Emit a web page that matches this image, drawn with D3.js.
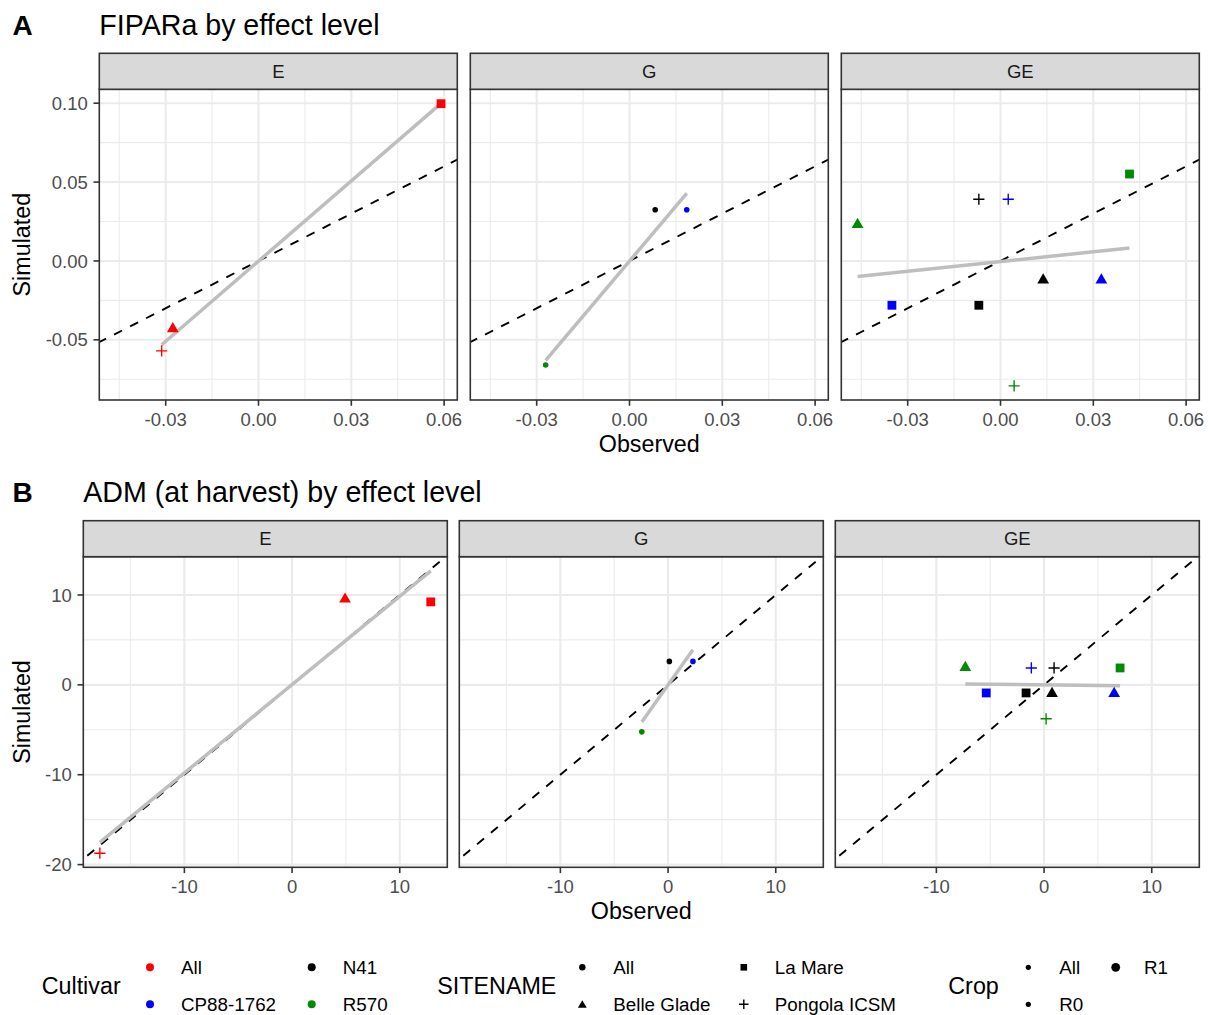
<!DOCTYPE html>
<html><head><meta charset="utf-8">
<script src="https://cdn.jsdelivr.net/npm/d3@7"></script>
<style>
body{margin:0;background:#fff;}
text{font-family:"Liberation Sans",Arial,sans-serif;}
</style>
</head><body>
<svg id="chart" width="1214" height="1015"></svg>
<script>
// ---------------- data ----------------
const effectLevels = ["E", "G", "GE"];
const cultivars = ["All", "CP88-1762", "N41", "R570"];
const cultivarColors = ["#FF0000", "#0000FF", "#000000", "#008B00"];
const sites = ["All", "Belle Glade", "La Mare", "Pongola ICSM"];
const crops = ["All", "R0", "R1"];

// Panel A: FIPARa
const fiparaEffect    = ["E","E","E", "G","G","G", "GE","GE","GE","GE","GE","GE","GE","GE","GE"];
const fiparaCultivar  = ["All","All","All", "N41","CP88-1762","R570",
                         "R570","N41","CP88-1762","R570","N41","CP88-1762","CP88-1762","N41","R570"];
const fiparaSite      = ["La Mare","Belle Glade","Pongola ICSM", "All","All","All",
                         "La Mare","Pongola ICSM","Pongola ICSM","Belle Glade","Belle Glade","Belle Glade","La Mare","La Mare","Pongola ICSM"];
const fiparaObserved  = [0.0590, -0.0277, -0.0313, 0.0083, 0.0185, -0.0271,
                         0.0417, -0.0070, 0.0025, -0.0462, 0.0138, 0.0326, -0.0351, -0.0070, 0.0044];
const fiparaSimulated = [0.0997, -0.0430, -0.0570, 0.0325, 0.0325, -0.0660,
                         0.0551, 0.0391, 0.0391, 0.0230, -0.0121, -0.0121, -0.0281, -0.0281, -0.0792];
const fiparaXTicks = [-0.03, 0.00, 0.03, 0.06];
const fiparaYTicks = [-0.05, 0.00, 0.05, 0.10];

// Panel B: ADM (at harvest)
const admEffect    = ["E","E","E", "G","G","G", "GE","GE","GE","GE","GE","GE","GE","GE","GE"];
const admCultivar  = ["All","All","All", "N41","CP88-1762","R570",
                      "R570","CP88-1762","N41","R570","CP88-1762","N41","N41","CP88-1762","R570"];
const admSite      = ["Belle Glade","La Mare","Pongola ICSM", "All","All","All",
                      "Belle Glade","Pongola ICSM","Pongola ICSM","La Mare","La Mare","La Mare","Belle Glade","Belle Glade","Pongola ICSM"];
const admObserved  = [4.92, 12.88, -17.85, 0.12, 2.31, -2.44,
                      -7.31, -1.18, 0.93, 7.06, -5.37, -1.67, 0.74, 6.51, 0.19];
const admSimulated = [9.53, 9.23, -18.73, 2.61, 2.61, -5.23,
                      1.91, 1.88, 1.88, 1.88, -0.90, -0.90, -0.98, -0.98, -3.78];
const admXTicks = [-10, 0, 10];
const admYTicks = [-20, -10, 0, 10];

// ---------------- helpers ----------------
const svg = d3.select("#chart");
const locale = d3.formatLocale({decimal: ".", thousands: ",", grouping: [3], currency: ["", ""], minus: "-"});
const colorScale = d3.scaleOrdinal().domain(cultivars).range(cultivarColors);

function drawShape(g, site, cx, cy, color, sizeMul) {
  const k = sizeMul || 1;
  if (site === "All") {
    g.append("circle").attr("cx", cx).attr("cy", cy).attr("r", 2.8 * k).attr("fill", color);
  } else if (site === "Belle Glade") {
    const w = 11.8 * k, r = w / Math.sqrt(3);
    g.append("path").attr("d", `M${cx},${cy - r}L${cx + w / 2},${cy + r / 2}L${cx - w / 2},${cy + r / 2}Z`).attr("fill", color);
  } else if (site === "La Mare") {
    const s = 8.8 * k;
    g.append("rect").attr("x", cx - s / 2).attr("y", cy - s / 2).attr("width", s).attr("height", s).attr("fill", color);
  } else {
    const h = 5.6 * k;
    g.append("path").attr("d", `M${cx - h},${cy}H${cx + h}M${cx},${cy - h}V${cy + h}`)
      .attr("stroke", color).attr("stroke-width", 1.4).attr("fill", "none");
  }
}

function lmFit(xs, ys) {
  const mx = d3.mean(xs), my = d3.mean(ys);
  let sxy = 0, sxx = 0;
  xs.forEach((x, i) => { sxy += (x - mx) * (ys[i] - my); sxx += (x - mx) * (x - mx); });
  const b = sxy / sxx, a = my - b * mx;
  return {a, b, x0: d3.min(xs), x1: d3.max(xs)};
}

function minorTicks(ticks, dom) {
  const step = ticks[1] - ticks[0];
  const out = [];
  for (let v = ticks[0] - step * 5.5; v <= dom[1]; v += step) {
    if (v >= dom[0]) out.push(v);
  }
  return out;
}

let clipId = 0;
function drawPanel(cfg) {
  const n = cfg.obs.length;
  const fits = {};
  effectLevels.forEach(e => {
    const idx = d3.range(n).filter(i => cfg.effect[i] === e);
    fits[e] = lmFit(idx.map(i => cfg.obs[i]), idx.map(i => cfg.sim[i]));
  });
  const xs = cfg.obs.slice();
  const ys = cfg.sim.slice();
  effectLevels.forEach(e => { const f = fits[e]; ys.push(f.a + f.b * f.x0, f.a + f.b * f.x1); });
  const xe = d3.extent(xs), ye = d3.extent(ys);
  const xDom = [xe[0] - 0.05 * (xe[1] - xe[0]), xe[1] + 0.05 * (xe[1] - xe[0])];
  const yDom = [ye[0] - 0.05 * (ye[1] - ye[0]), ye[1] + 0.05 * (ye[1] - ye[0])];
  const fmt = locale.format(cfg.fmt);

  // title + tag
  svg.append("text").attr("x", 12.5).attr("y", cfg.titleY).attr("font-size", 28).attr("font-weight", "bold")
    .attr("fill", "#000").text(cfg.tag);
  svg.append("text").attr("x", cfg.left).attr("y", cfg.titleY).attr("font-size", 28.6).attr("fill", "#000").text(cfg.title);

  const gap = (cfg.right - cfg.left - 3 * cfg.facetW) / 2;
  const yScale = d3.scaleLinear().domain(yDom).range([cfg.panelBottom, cfg.stripBottom]);
  const yMinor = minorTicks(cfg.yTicks, yDom);
  const xMinor = minorTicks(cfg.xTicks, xDom);

  effectLevels.forEach((e, fi) => {
    const x0 = cfg.left + fi * (cfg.facetW + gap);
    const xScale = d3.scaleLinear().domain(xDom).range([x0, x0 + cfg.facetW]);
    const g = svg.append("g");
    const id = "clip" + (clipId++);
    g.append("clipPath").attr("id", id).append("rect")
      .attr("x", x0).attr("y", cfg.stripBottom).attr("width", cfg.facetW).attr("height", cfg.panelBottom - cfg.stripBottom);
    g.append("rect").attr("x", x0).attr("y", cfg.stripBottom).attr("width", cfg.facetW)
      .attr("height", cfg.panelBottom - cfg.stripBottom).attr("fill", "#fff");
    const grid = g.append("g").attr("clip-path", `url(#${id})`);
    // minor grid
    xMinor.forEach(v => grid.append("line").attr("x1", xScale(v)).attr("x2", xScale(v))
      .attr("y1", cfg.stripBottom).attr("y2", cfg.panelBottom).attr("stroke", "#EBEBEB").attr("stroke-width", 1.1));
    yMinor.forEach(v => grid.append("line").attr("y1", yScale(v)).attr("y2", yScale(v))
      .attr("x1", x0).attr("x2", x0 + cfg.facetW).attr("stroke", "#EBEBEB").attr("stroke-width", 1.1));
    // major grid
    cfg.xTicks.forEach(v => grid.append("line").attr("x1", xScale(v)).attr("x2", xScale(v))
      .attr("y1", cfg.stripBottom).attr("y2", cfg.panelBottom).attr("stroke", "#EBEBEB").attr("stroke-width", 2.1));
    cfg.yTicks.forEach(v => grid.append("line").attr("y1", yScale(v)).attr("y2", yScale(v))
      .attr("x1", x0).attr("x2", x0 + cfg.facetW).attr("stroke", "#EBEBEB").attr("stroke-width", 2.1));
    // 1:1 line
    const lo = Math.min(xDom[0], yDom[0]), hi = Math.max(xDom[1], yDom[1]);
    grid.append("path").attr("d", d3.line().x(d => xScale(d)).y(d => yScale(d))([lo, hi]))
      .attr("stroke", "#000").attr("stroke-width", 1.9).attr("stroke-dasharray", "9,9").attr("fill", "none");
    // regression line
    const f = fits[e];
    grid.append("path").attr("d", d3.line().x(d => xScale(d)).y(d => yScale(f.a + f.b * d))([f.x0, f.x1]))
      .attr("stroke", "#BEBEBE").attr("stroke-width", 3.5).attr("fill", "none");
    // points
    d3.range(n).filter(i => cfg.effect[i] === e).forEach(i => {
      drawShape(grid, cfg.site[i], xScale(cfg.obs[i]), yScale(cfg.sim[i]), colorScale(cfg.cultivar[i]));
    });
    // border
    g.append("rect").attr("x", x0).attr("y", cfg.stripBottom).attr("width", cfg.facetW)
      .attr("height", cfg.panelBottom - cfg.stripBottom).attr("fill", "none").attr("stroke", "#333").attr("stroke-width", 1.6);
    // strip
    g.append("rect").attr("x", x0).attr("y", cfg.stripTop).attr("width", cfg.facetW)
      .attr("height", cfg.stripBottom - cfg.stripTop).attr("fill", "#D9D9D9").attr("stroke", "#333").attr("stroke-width", 1.6);
    g.append("text").attr("x", x0 + cfg.facetW / 2).attr("y", (cfg.stripTop + cfg.stripBottom) / 2 + 6.6)
      .attr("text-anchor", "middle").attr("font-size", 18.5).attr("fill", "#1A1A1A").text(e);
    // x axis
    cfg.xTicks.forEach(v => {
      g.append("line").attr("x1", xScale(v)).attr("x2", xScale(v)).attr("y1", cfg.panelBottom).attr("y2", cfg.panelBottom + 5.8)
        .attr("stroke", "#333").attr("stroke-width", 1.6);
      g.append("text").attr("x", xScale(v)).attr("y", cfg.panelBottom + 25.5).attr("text-anchor", "middle")
        .attr("font-size", 18.5).attr("fill", "#4D4D4D").text(fmt(v));
    });
    // y axis only on first facet
    if (fi === 0) {
      cfg.yTicks.forEach(v => {
        g.append("line").attr("x1", x0 - 5.8).attr("x2", x0).attr("y1", yScale(v)).attr("y2", yScale(v))
          .attr("stroke", "#333").attr("stroke-width", 1.6);
        g.append("text").attr("x", x0 - 11.5).attr("y", yScale(v) + 6.6).attr("text-anchor", "end")
          .attr("font-size", 18.5).attr("fill", "#4D4D4D").text(fmt(v));
      });
    }
  });
  // axis titles
  svg.append("text").attr("x", (cfg.left + cfg.right) / 2).attr("y", cfg.panelBottom + 52).attr("text-anchor", "middle")
    .attr("font-size", 23.3).attr("fill", "#000").text("Observed");
  const cy = (cfg.stripBottom + cfg.panelBottom) / 2;
  svg.append("text").attr("transform", `translate(29.5,${cy}) rotate(-90)`).attr("text-anchor", "middle")
    .attr("font-size", 23.3).attr("fill", "#000").text("Simulated");
}

drawPanel({
  tag: "A", title: "FIPARa by effect level", titleY: 35,
  stripTop: 53.3, stripBottom: 89.3, panelBottom: 400,
  left: 99.3, right: 1199.3, facetW: 358,
  effect: fiparaEffect, cultivar: fiparaCultivar, site: fiparaSite, obs: fiparaObserved, sim: fiparaSimulated,
  xTicks: fiparaXTicks, yTicks: fiparaYTicks, fmt: ".2f"
});
drawPanel({
  tag: "B", title: "ADM (at harvest) by effect level", titleY: 502.3,
  stripTop: 520.7, stripBottom: 556.7, panelBottom: 867.3,
  left: 83.3, right: 1199.3, facetW: 364,
  effect: admEffect, cultivar: admCultivar, site: admSite, obs: admObserved, sim: admSimulated,
  xTicks: admXTicks, yTicks: admYTicks, fmt: "d"
});

// ---------------- legend ----------------
const leg = svg.append("g");
const rowY = [967.3, 1004.3];
function legendTitle(x, t) {
  leg.append("text").attr("x", x).attr("y", 994.3).attr("font-size", 23.3).attr("fill", "#000").text(t);
}
function legendLabel(x, y, t) {
  leg.append("text").attr("x", x).attr("y", y + 6.6).attr("font-size", 18.8).attr("fill", "#000").text(t);
}
// Cultivar
legendTitle(41.7, "Cultivar");
const cultCols = [150, 311.7];
cultivars.forEach((c, i) => {
  const col = Math.floor(i / 2), row = i % 2;
  leg.append("circle").attr("cx", cultCols[col]).attr("cy", rowY[row]).attr("r", 4).attr("fill", colorScale(c));
  legendLabel(cultCols[col] + 31, rowY[row], c);
});
// SITENAME
legendTitle(437.3, "SITENAME");
const siteCols = [582.3, 743.8];
sites.forEach((s, i) => {
  const col = Math.floor(i / 2), row = i % 2;
  drawShape(leg, s, siteCols[col], rowY[row] + (s === "Belle Glade" ? 1 : 0), "#000", s === "All" ? 1.15 : (s === "Pongola ICSM" ? 0.85 : 0.75));
  legendLabel(siteCols[col] + 31, rowY[row], s);
});
// Crop
legendTitle(948.3, "Crop");
const cropCols = [1028.3, 1115.7];
const cropLabelX = [1059.3, 1144];
const cropR = [2.6, 2.6, 4.4];
crops.forEach((c, i) => {
  const col = Math.floor(i / 2), row = i % 2;
  leg.append("circle").attr("cx", cropCols[col]).attr("cy", rowY[row]).attr("r", cropR[i]).attr("fill", "#000");
  legendLabel(cropLabelX[col], rowY[row], c);
});
</script>
</body></html>
